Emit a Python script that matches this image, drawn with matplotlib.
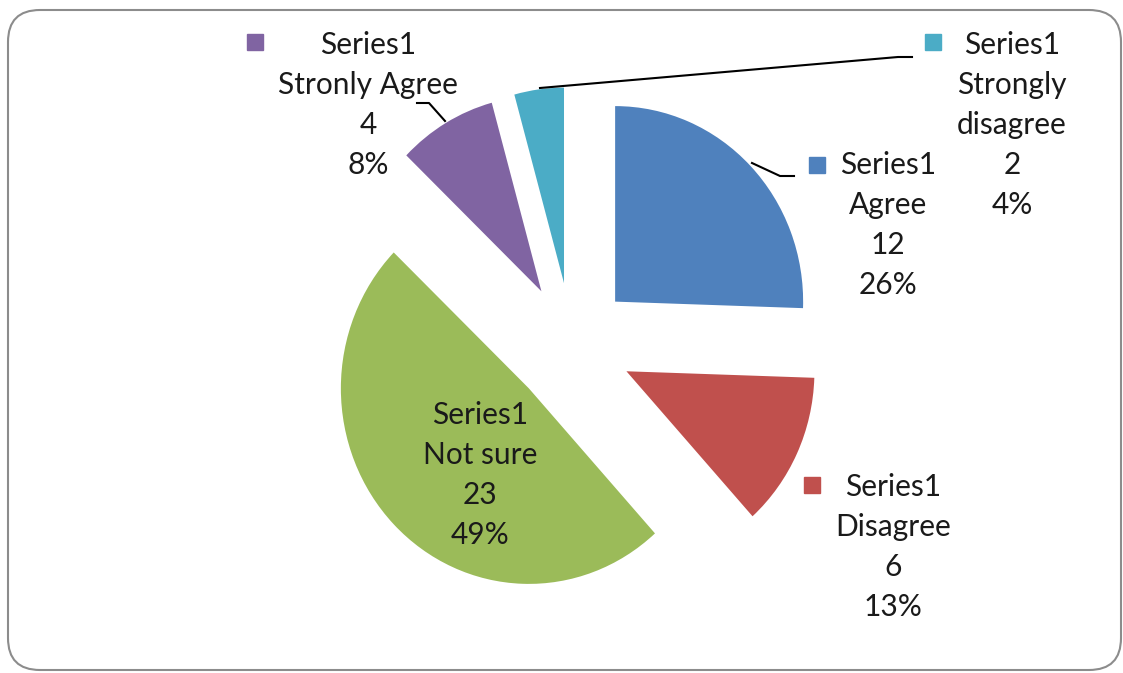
import matplotlib.pyplot as plt
from matplotlib.patches import FancyBboxPatch

# Dados do gráfico (ordem do Excel: começa às 12h, sentido horário)
categorias = ["Agree", "Disagree", "Not sure", "Stronly Agree", "Strongly\ndisagree"]
contagens = [12, 6, 23, 4, 2]
percentuais = ["26%", "13%", "49%", "8%", "4%"]
serie = "Series1"
cores = ["#4F81BD", "#C0504D", "#9BBB59", "#8064A2", "#4BACC6"]

W, H = 1123, 673
SY = 1.04  # a imagem original está um pouco esticada na vertical

plt.rcParams["font.family"] = ["Lato", "DejaVu Sans"]

fig = plt.figure(figsize=(W / 100, H / 100), dpi=100)

# eixo da pizza: x em pixels, y em pixels / SY
ax = fig.add_axes([0, 0, 1, 1])
cx, cy_topo, raio = 572, 345, 188
ax.pie(contagens, colors=cores, startangle=90, counterclock=False,
       explode=[60] * len(contagens), radius=raio,
       center=(cx, (H - cy_topo) / SY), wedgeprops=dict(linewidth=0))
ax.set_xlim(0, W)
ax.set_ylim(0, H / SY)
ax.set_aspect("auto")
ax.axis("off")

# eixo sobreposto para textos e linhas (pixels, y a partir do topo)
ax2 = fig.add_axes([0, 0, 1, 1])
ax2.set_xlim(0, W)
ax2.set_ylim(H, 0)
ax2.axis("off")

# posição dos rótulos (x central, y da primeira linha)
pos_rotulos = [(888, 165), (893, 487), (480, 415), (368, 45), (1012, 45)]
pos_marcas = [(817, 165), (812, 485), None, (255, 42), (933, 42)]
passo = 40

for i, cat in enumerate(categorias):
    linhas = [serie] + cat.split("\n") + [str(contagens[i]), percentuais[i]]
    x0, y0 = pos_rotulos[i]
    for j, linha in enumerate(linhas):
        ax2.text(x0, y0 + j * passo, linha, ha="center", va="center",
                 fontsize=21.5, color="#1a1a1a")
    if pos_marcas[i] is not None:
        mx, my = pos_marcas[i]
        ax2.plot(mx, my, marker="s", markersize=11, color=cores[i],
                 linestyle="none")

# linhas de chamada
chamadas = [
    [(752, 163), (780, 176), (794, 176)],
    [(445, 121), (429, 103), (417, 103)],
    [(540, 88), (898, 57), (912, 57)],
]
for pts in chamadas:
    ax2.plot([p[0] for p in pts], [p[1] for p in pts], color="black",
             linewidth=1.5)

# moldura arredondada
moldura = FancyBboxPatch((8, 10), 1113, 660,
                         boxstyle="round,pad=0,rounding_size=32",
                         facecolor="none", edgecolor="#8c8c8c", linewidth=1.5,
                         clip_on=False)
ax2.add_patch(moldura)

plt.savefig("out.png", dpi=100)
plt.close()
